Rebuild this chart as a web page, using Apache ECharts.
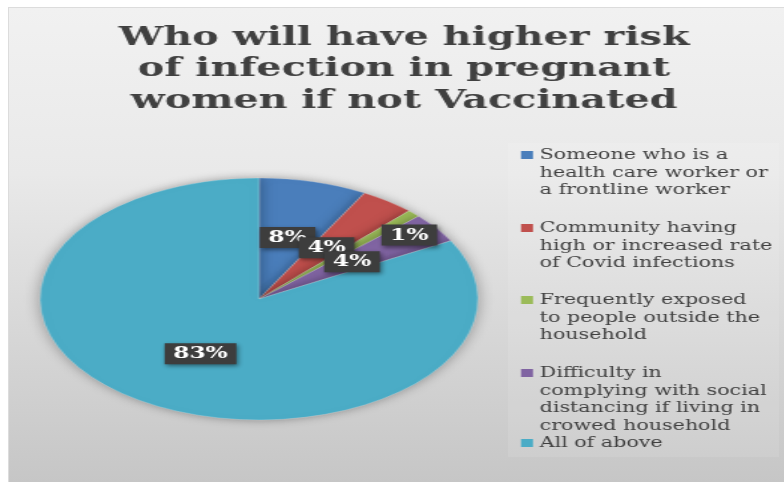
<!DOCTYPE html>
<html>
<head>
<meta charset="utf-8">
<script src="https://cdn.jsdelivr.net/npm/echarts@6/dist/echarts.min.js"></script>
<style>
  html, body { margin: 0; padding: 0; background: #ffffff; overflow: hidden; }
  #frame { position: absolute; left: 8px; top: 7px; width: 776px; height: 475px;
    background: linear-gradient(to bottom, #f1f1f1 0%, #e9e9e9 35%, #d6d6d6 70%, #c6c6c6 100%);
    border-top: 1px solid #dcdcdc; border-left: 1px solid #dcdcdc; box-sizing: border-box; }
  #legbox { position: absolute; left: 508px; top: 143px; width: 271px; height: 314px;
    background: rgba(255,255,255,0.10); }
  #pie { position: absolute; left: 0; top: 0; width: 784px; height: 482px;
    transform-origin: 259px 299px; }
  #over { position: absolute; left: 0; top: 0; width: 784px; height: 482px;
    transform-origin: 0 0; }
  #ttl { position: absolute; left: 0; top: 0; width: 808px; height: 140px;
    transform-origin: 404px 0; }
</style>
</head>
<body>
<div id="frame"></div>
<div id="legbox"></div>
<div id="pie"></div>
<div id="over"></div>
<div id="ttl"></div>
<script>
// ---- data ----
const categories = [
  'Someone who is a\nhealth care worker or\na frontline worker',
  'Community having\nhigh or increased rate\nof Covid infections',
  'Frequently exposed\nto people outside the\nhousehold',
  'Difficulty in\ncomplying with social\ndistancing if living in\ncrowed household',
  'All of above'
];
const values = [8, 4, 1, 4, 83];
const colors = ['#4a7ebb', '#c0504d', '#9bbb59', '#8064a2', '#4bacc6'];
const titleText = 'Who will have higher risk\nof infection in pregnant\nwomen if not Vaccinated';

// ---- layout constants ----
const CX = 259, CY = 299, RY = 121, RX = 219;
const K = RX / RY;          // pie ellipse stretch
const S = 1.33;             // text stretch (legend + labels)
const ST = 1.50;            // title stretch
const legendFirstLine = [155, 228, 300, 373, 443];
const LH = 17.5;

document.getElementById('pie').style.transform = 'scaleX(' + K + ')';
document.getElementById('over').style.transform = 'scaleX(' + S + ')';
document.getElementById('ttl').style.transform = 'scaleX(' + ST + ')';

const pieData = categories.map((c, i) => ({ name: c, value: values[i] }));

// Stretched pie (ellipse)
const pieChart = echarts.init(document.getElementById('pie'), null, { renderer: 'canvas' });
pieChart.setOption({
  animation: false,
  color: colors,
  series: [{
    type: 'pie',
    center: [CX, CY],
    radius: RY,
    startAngle: 90,
    clockwise: true,
    label: { show: false },
    labelLine: { show: false },
    itemStyle: { borderWidth: 0.6, borderColor: 'rgba(255,255,255,0.35)',
      shadowBlur: 8, shadowColor: 'rgba(0,0,0,0.35)' },
    emphasis: { disabled: true },
    data: pieData
  }]
});

// Title
const ttl = echarts.init(document.getElementById('ttl'), null, { renderer: 'canvas' });
ttl.setOption({
  animation: false,
  title: {
    text: titleText,
    left: 'center',
    top: 22,
    padding: 0,
    textStyle: { fontFamily: 'DejaVu Serif', fontWeight: 'bold', fontSize: 26.5,
      lineHeight: 31.5, color: '#404040' }
  }
});

// Overlay: legends + labels
const over = echarts.init(document.getElementById('over'), null, { renderer: 'canvas' });
const legends = categories.map((c, i) => {
  const n = c.split('\n').length;
  return {
    left: 521 / S,
    top: legendFirstLine[i] - (2 * n - 1) * LH / 2,
    orient: 'vertical',
    padding: 0,
    itemGap: 0,
    itemWidth: 12 / S,
    itemHeight: 8,
    icon: 'rect',
    selectedMode: false,
    data: [{ name: c, icon: 'rect', itemStyle: { color: colors[i], opacity: 1, borderWidth: 0 } }],
    formatter: name => '\n'.repeat(n - 1) + name,
    textStyle: { fontFamily: 'DejaVu Serif', fontSize: 15.5, lineHeight: LH, color: '#404040' }
  };
});

over.setOption({
  animation: false,
  legend: legends,
  series: [{
    type: 'pie',
    center: [CX / S, CY],
    radius: RY,
    startAngle: 90,
    clockwise: true,
    silent: true,
    itemStyle: { color: 'rgba(0,0,0,0)' },
    labelLine: { show: false },
    label: {
      show: true,
      position: 'inside',
      formatter: '{c}%',
      fontFamily: 'DejaVu Serif',
      fontWeight: 'bold',
      fontSize: 17.5,
      lineHeight: 19,
      color: '#ffffff',
      backgroundColor: '#3d3d3d',
      padding: [1, 6.5],
      shadowBlur: 4,
      shadowColor: 'rgba(0,0,0,0.45)',
      shadowOffsetX: 1.5,
      shadowOffsetY: 2
    },
    labelLayout: function (p) {
      const r = p.labelRect;
      const mx = r.x + r.width / 2;
      let dx = (mx - CX / S) * (K / S - 1);
      let dy = 0;
      if (p.dataIndex === 2) { dx += 69 / S; dy = -19; }
      return { dx: dx, dy: dy };
    },
    emphasis: { disabled: true },
    data: pieData
  }]
});
</script>
</body>
</html>
